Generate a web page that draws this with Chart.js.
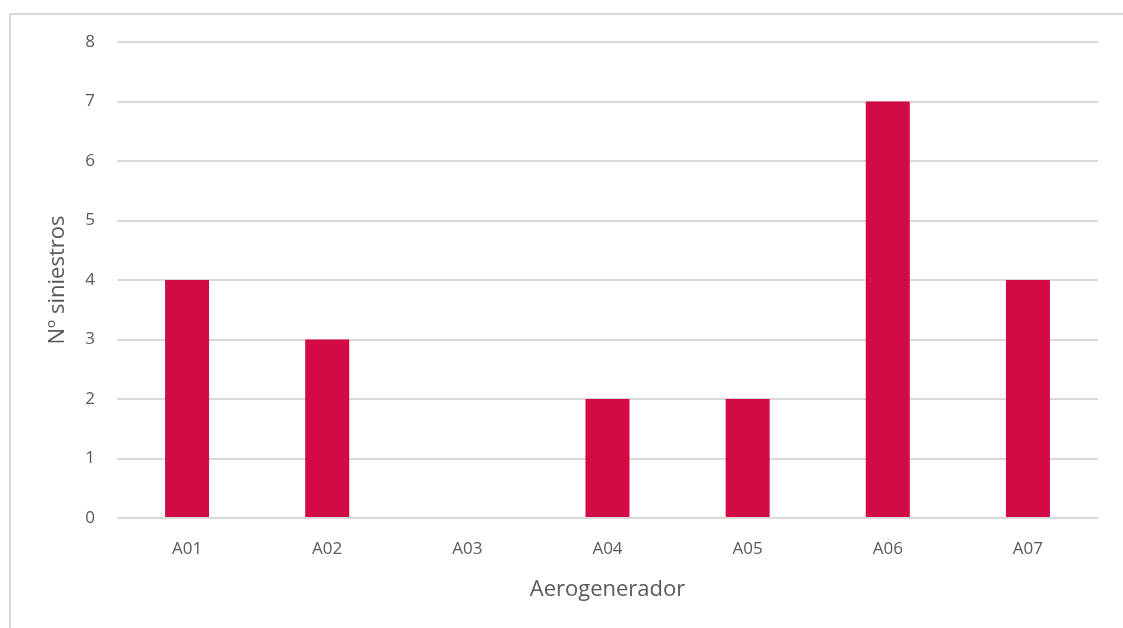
<!DOCTYPE html>
<html>
<head>
<meta charset="utf-8">
<script src="https://cdn.jsdelivr.net/npm/chart.js@4"></script>
<style>
  html, body { margin: 0; padding: 0; background: #fff; }
  #wrap { position: relative; width: 1123px; height: 628px; }
  #frame { position: absolute; left: 9px; top: 13px; right: 0; bottom: 0;
           border-left: 2px solid #d9d9d9; border-top: 2px solid #d9d9d9; }
  canvas { position: absolute; left: 0; top: 0; }
</style>
</head>
<body>
<div id="wrap">
  <div id="frame"></div>
  <canvas id="siniestrosChart" width="1123" height="628"></canvas>
</div>
<script>
// datos
const aerogeneradores = ['A01', 'A02', 'A03', 'A04', 'A05', 'A06', 'A07'];
const siniestros = [4, 3, 0, 2, 2, 7, 4];
const yTicks = [0, 1, 2, 3, 4, 5, 6, 7, 8];

const fontFamily = "'Open Sans', 'Liberation Sans', sans-serif";

var ctx = document.getElementById('siniestrosChart').getContext('2d');
var chart = new Chart(ctx, {
    type: 'bar',
    data: {
        labels: aerogeneradores,
        datasets: [{
            label: 'Nº siniestros',
            data: siniestros,
            backgroundColor: '#d20a46',
            categoryPercentage: 0.314,
            barPercentage: 1.0
        }]
    },
    options: {
        responsive: false,
        animation: false,
        layout: { padding: { top: 42, right: 25, bottom: 0, left: 0 } },
        plugins: {
            legend: { display: false },
            tooltip: { enabled: false }
        },
        scales: {
            x: {
                grid: { display: false, drawTicks: false },
                border: { display: false },
                ticks: { color: '#595959', font: { family: fontFamily, size: 17 }, padding: 21 },
                title: {
                    display: true, text: 'Aerogenerador', color: '#595959',
                    font: { family: fontFamily, size: 22 }, padding: { top: 0, bottom: 25 }
                },
                afterFit: function(scale) { scale.height = 110; }
            },
            y: {
                min: 0, max: 8,
                afterBuildTicks: function(scale) {
                    scale.ticks = yTicks.map(function(v) { return { value: v }; });
                },
                grid: { color: '#d9d9d9', lineWidth: 2, drawTicks: false },
                border: { display: false },
                ticks: { color: '#595959', font: { family: fontFamily, size: 17 }, padding: 22 },
                title: {
                    display: true, text: 'Nº siniestros', color: '#595959',
                    font: { family: fontFamily, size: 22 }, padding: { top: 45, bottom: 0 }
                },
                afterFit: function(scale) { scale.width = 117; }
            }
        }
    }
});
</script>
</body>
</html>
